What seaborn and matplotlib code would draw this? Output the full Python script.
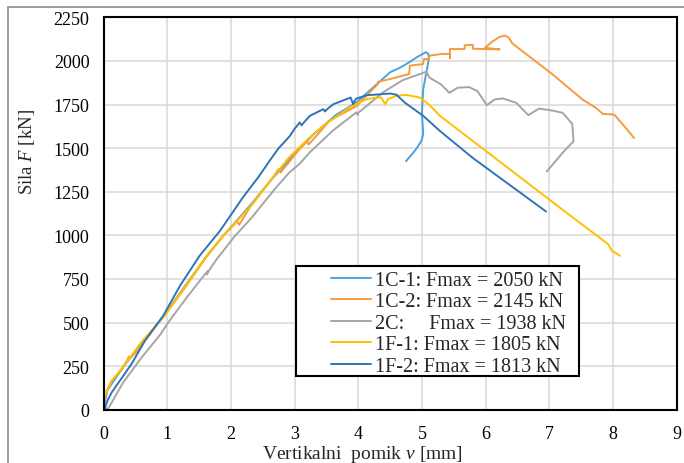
import numpy as np
import pandas as pd
import matplotlib
matplotlib.use("Agg")
import matplotlib.pyplot as plt
from matplotlib.patches import Rectangle
import seaborn as sns

# ---------------- data ----------------
labels = ["1C-1: Fmax = 2050 kN",
          "1C-2: Fmax = 2145 kN",
          "2C:     Fmax = 1938 kN",
          "1F-1: Fmax = 1805 kN",
          "1F-2: Fmax = 1813 kN"]
colors = ["#4BA3DE", "#F79A3E", "#A5A5A5", "#FFC000", "#2E75B6"]

v_1C1 = [0, 0.02, 0.06, 0.15, 0.35, 0.65, 0.96, 1.3, 1.62, 1.9, 2.3, 2.64, 2.92, 3.3, 3.65, 3.97,
         4.29, 4.5, 4.65, 4.8, 4.92, 5.06, 5.10, 5.11, 5.07, 5.02, 5.00, 5.02, 4.99, 4.9, 4.82, 4.75]
F_1C1 = [0, 40, 110, 160, 265, 400, 545, 720, 880, 1005, 1170, 1320, 1436, 1580, 1690, 1761,
         1866, 1935, 1960, 1992, 2021, 2050, 2040, 2015, 1935, 1839, 1700, 1580, 1540, 1490, 1455, 1425]

v_1C2 = [0, 0.01, 0.05, 0.13, 0.25, 0.34, 0.38, 0.40, 0.42, 0.55, 0.8, 0.96, 1.3, 1.62, 1.88, 2.1,
         2.13, 2.30, 2.64, 2.75, 2.78, 3.08, 3.2, 3.22, 3.55, 3.98, 4.1, 4.18, 4.31, 4.31, 4.5, 4.80,
         4.81, 5.02, 5.03, 5.11, 5.12, 5.31, 5.44, 5.44, 5.44, 5.6, 5.67, 5.67, 5.80, 5.80, 6.0, 6.22,
         5.99, 6.1, 6.22, 6.30, 6.36, 6.42, 7.05, 7.52, 7.73, 7.84, 8.02, 8.20, 8.33]
F_1C2 = [0, 45, 110, 166, 215, 262, 290, 305, 295, 345, 470, 540, 710, 880, 998, 1080,
         1060, 1161, 1323, 1380, 1360, 1495, 1540, 1520, 1657, 1743, 1790, 1820, 1868, 1880, 1896, 1925,
         1973, 1982, 2011, 2011, 2030, 2040, 2040, 2015, 2068, 2068, 2068, 2090, 2092, 2070, 2068, 2066,
         2075, 2110, 2138, 2145, 2135, 2100, 1923, 1779, 1731, 1696, 1692, 1616, 1558]

v_2C = [0, 0.05, 0.08, 0.31, 0.6, 0.89, 1.02, 1.3, 1.6, 1.64, 1.62, 1.66, 1.78, 2.05, 2.33, 2.36,
        2.7, 2.92, 3.08, 3.24, 3.6, 3.97, 3.99, 4.0, 4.39, 4.7, 5.07, 5.12, 5.30, 5.43, 5.56, 5.74,
        5.87, 6.02, 6.14, 6.27, 6.48, 6.67, 6.84, 7.05, 7.21, 7.36, 7.38, 7.23, 6.96]
F_2C = [0, 5, 10, 157, 300, 430, 502, 640, 780, 795, 775, 800, 864, 990, 1103, 1116,
        1270, 1361, 1410, 1476, 1600, 1705, 1690, 1702, 1820, 1890, 1938, 1904, 1865, 1817, 1846, 1850,
        1827, 1746, 1779, 1785, 1760, 1689, 1727, 1715, 1702, 1639, 1539, 1482, 1366]

v_1F1 = [0, 0.0, 0.02, 0.13, 0.25, 0.34, 0.6, 0.96, 1.3, 1.62, 1.88, 2.30, 2.64, 2.92, 3.24, 3.45,
         3.87, 4.13, 4.31, 4.36, 4.42, 4.44, 4.46, 4.60, 4.75, 4.97, 5.13, 5.28, 7.16, 7.92, 7.98, 8.11]
F_1F1 = [0, 33, 80, 166, 220, 262, 390, 540, 715, 883, 998, 1161, 1323, 1450, 1562, 1628,
         1734, 1781, 1791, 1790, 1753, 1760, 1780, 1800, 1805, 1790, 1743, 1686, 1160, 950, 912, 883]

v_1F2 = [0, 0.02, 0.06, 0.13, 0.44, 0.65, 0.94, 1.2, 1.51, 1.83, 2.19, 2.43, 2.61, 2.74, 2.92, 3.0,
         3.08, 3.11, 3.13, 3.24, 3.45, 3.48, 3.50, 3.61, 3.84, 3.88, 3.92, 3.95, 3.97, 4.13, 4.50, 4.60,
         4.73, 5.02, 5.28, 5.80, 6.95]
F_1F2 = [0, 4, 50, 100, 262, 395, 540, 710, 883, 1026, 1218, 1333, 1428, 1495, 1567, 1610,
         1647, 1630, 1640, 1685, 1723, 1710, 1720, 1752, 1784, 1790, 1752, 1775, 1784, 1803, 1813, 1806,
         1761, 1685, 1599, 1443, 1136]

x_ticks = list(range(0, 10))
y_ticks = list(range(0, 2251, 250))

series = [(v_1C1, F_1C1), (v_1C2, F_1C2), (v_2C, F_2C), (v_1F1, F_1F1), (v_1F2, F_1F2)]
frames = []
for lab, (vv, ff) in zip(labels, series):
    frames.append(pd.DataFrame({"v": vv, "F": ff, "series": lab}))
df = pd.concat(frames, ignore_index=True)

# ---------------- style ----------------
sns.set_style("white")
plt.rcParams['font.family'] = ['Liberation Serif', 'DejaVu Serif']
plt.rcParams['mathtext.fontset'] = 'custom'
plt.rcParams['mathtext.rm'] = 'Liberation Serif'
plt.rcParams['mathtext.it'] = 'Liberation Serif:italic'

fig = plt.figure(figsize=(6.84, 4.64), dpi=100)
ax = fig.add_axes([103.5 / 684, 1 - 410.7 / 464, (676.7 - 103.5) / 684, (410.7 - 18.3) / 464])

sns.lineplot(data=df, x="v", y="F", hue="series", hue_order=labels, palette=colors,
             sort=False, estimator=None, units="series", linewidth=1.4, ax=ax, legend=True)

ax.set_xlim(0, 9)
ax.set_ylim(0, 2250)
ax.set_xticks(x_ticks)
ax.set_yticks(y_ticks)
ax.grid(True, color="#D9D9D9", linewidth=1.1)
ax.set_axisbelow(True)
for s in ax.spines.values():
    s.set_color("black")
    s.set_linewidth(1.5)
ax.tick_params(axis="y", direction="in", length=5, width=1.2, pad=10, labelsize=13, colors="black")
ax.tick_params(axis="x", length=0, pad=11, labelsize=13, colors="black")

ax.set_xlabel(r"Vertikalni  pomik $\mathit{v}$ [mm]", fontsize=14, va="top")
ax.xaxis.set_label_coords((362 - 103.5) / 573.2, (410.7 - 444) / 392.4)
ax.set_ylabel(r"Sila $\mathit{F}$ [kN]", fontsize=13.5)
ax.yaxis.set_label_coords((37.3 - 103.5) / 573.2, (410.7 - 152) / 392.4)

# legend
box = Rectangle(((296 - 103.5) / 573.2, (410.7 - 377) / 392.4), (579 - 296) / 573.2, (377 - 267) / 392.4,
                transform=ax.transAxes, facecolor="white", edgecolor="black", linewidth=1.5, zorder=4)
ax.add_patch(box)
h, l = ax.get_legend_handles_labels()
for hh in h:
    hh.set_linewidth(1.4)
leg = ax.legend(h, l, loc="upper left", bbox_to_anchor=((330 - 103.5) / 573.2, (410.7 - 270.5) / 392.4),
                frameon=False, fontsize=14.5, handlelength=2.0, handletextpad=0.2, labelspacing=0.12,
                borderpad=0.05, borderaxespad=0)
leg.set_zorder(5)

# outer chart border
fig.add_artist(Rectangle((8 / 684, -0.1), 1.2, 1 - 8 / 464 + 0.1, transform=fig.transFigure,
                         fill=False, edgecolor="#8C8C8C", linewidth=1.2))

fig.savefig("out.png", dpi=100)
